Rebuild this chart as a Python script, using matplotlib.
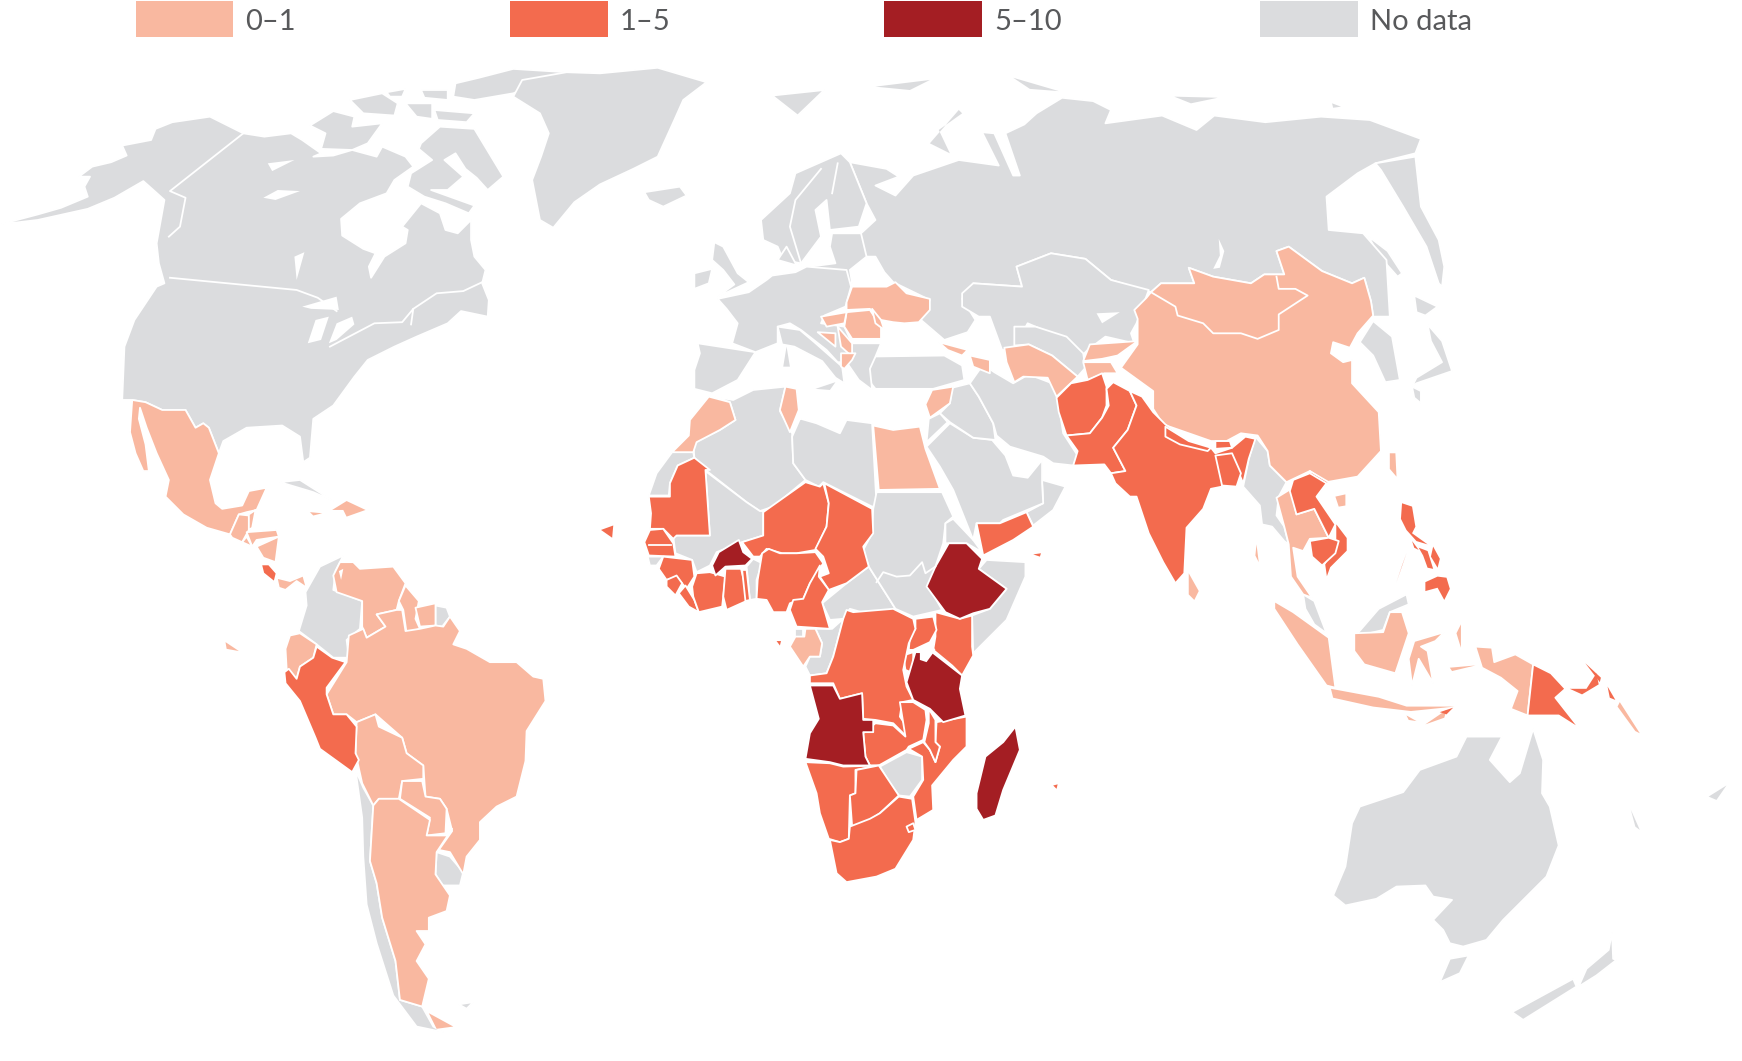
import matplotlib
matplotlib.use("Agg")
import matplotlib.pyplot as plt
from matplotlib.patches import Rectangle

# --- no data ---
north_america = [(0,202),(34,193),(55,187),(79,177),(76,168),(81,159),(71,159),(83,150),(100,146),(114,140),(110,131),(136,126),(140,116),(155,110),(189,105),(219,120),(238,123),(262,120),(272,126),(289,138),(282,141),(300,140),(317,135),(339,141),(344,132),(365,141),(372,150),(355,162),(348,174),(324,183),(307,197),(308,212),(327,224),(338,228),(332,240),(334,250),(346,231),(365,219),(367,207),(362,204),(379,183),(396,192),(401,207),(412,210),(424,198),(424,216),(427,231),(437,243),(434,255),(440,270),(439,285),(415,280),(403,291),(375,303),(355,312),(331,324),(319,339),(300,365),(282,377),(279,412),(273,416),(270,393),(254,383),(222,385),(201,397),(197,408),(188,385),(183,381),(176,385),(167,369),(146,369),(131,362),(119,360),(110,360),(112,312),(121,288),(141,258),(148,255),(143,237),(141,219),(148,180),(138,171),(129,163),(103,178),(79,188),(34,198)]
baffin = [(379,129),(396,114),(427,116),(453,159),(439,171),(429,160),(419,152),(410,138),(400,144),(417,159),(403,171),(388,171),(427,185),(422,192),(401,183),(382,177),(367,168),(370,156),(389,144),(377,134)]
victoria = [(279,113),(300,100),(319,105),(317,114),(344,111),(331,129),(317,135),(289,134),(293,120)]
ellesmere = [(431,70),(462,62),(510,65),(462,84),(427,90),(408,87),(410,75)]
devon = [(391,99),(427,102),(420,110),(394,108)]
melville = [(315,90),(344,84),(358,93),(355,104),(327,102)]
bathurst = [(365,93),(389,93),(389,107),(375,105)]
axel = [(379,81),(403,81),(403,90),(382,88)]
prince_patrick = [(348,83),(365,80),(362,87),(351,87)]
greenland = [(470,72),(510,65),(540,66),(592,61),(636,74),(615,90),(607,108),(592,141),(570,152),(540,166),(517,182),(498,205),(486,198),(479,162),(487,141),(494,120),(486,102),(462,87)]
iceland = [(580,173),(612,168),(618,176),(597,186),(584,180)]
svalbard = [(695,86),(742,81),(718,104)]
cuba = [(252,434),(270,432),(300,451),(282,443)]
colombia = [(288,510),(309,500),(302,514),(300,531),(326,541),(324,566),(312,576),(314,592),(300,592),(285,580),(269,568),(276,545),(275,533)]
french_guiana = [(392,545),(402,547),(405,555),(398,564),(392,563)]
uruguay = [(393,767),(405,771),(417,785),(414,797),(398,797),(392,787)]
chile = [(320,693),(327,709),(336,725),(333,775),(339,795),(344,826),(356,865),(360,900),(380,906),(390,924),(399,929),(375,924),(354,896),(339,849),(330,814),(327,771),(326,736)]
falklands = [(413,904),(426,902),(420,908)]
western_sahara = [(605,407),(624,407),(625,412),(610,419),(603,435),(602,446),(584,446),(591,426)]
algeria = [(642,357),(660,360),(678,351),(707,348),(702,370),(713,390),(714,417),(725,432),(696,456),(684,460),(672,452),(635,423),(625,412),(624,399),(648,387),(662,378),(657,362)]
libya = [(714,375),(735,381),(756,390),(762,378),(785,381),(789,455),(785,456),(741,434),(737,438),(725,432),(714,417),(713,393),(720,377)]
mali = [(635,424),(672,452),(684,460),(687,460),(687,482),(668,488),(645,497),(639,509),(627,515),(623,504),(608,498),(606,483),(609,482),(639,482)]
guinea_bissau = [(583,501),(597,501),(591,509),(585,509)]
benin = [(672,510),(678,503),(686,507),(681,522),(681,539),(675,540)]
eq_guinea = [(716,566),(723,566),(723,573),(716,573)]
congo = [(734,566),(749,566),(759,557),(750,591),(744,606),(729,608),(725,600),(729,591),(738,591),(740,579)]
car = [(740,543),(762,525),(782,510),(801,540),(806,548),(786,551),(779,552),(765,548),(759,557),(747,558)]
sudan = [(789,443),(848,443),(858,465),(851,471),(849,489),(842,510),(836,528),(848,549),(822,555),(806,548),(801,540),(782,510),(777,495),(785,480),(786,458)]
eritrea = [(851,471),(858,467),(876,486),(884,497),(870,489),(851,489)]
somalia = [(881,512),(888,504),(923,506),(923,519),(906,558),(876,588),(875,554),(891,548),(906,530)]
zimbabwe = [(792,690),(816,677),(830,681),(830,702),(819,717),(809,716),(801,705)]
lesotho = [(795,764),(804,756),(809,762),(801,770)]
oman = [(924,461),(939,453),(938,432),(959,438),(948,459),(930,473)]
saudi = [(834,402),(855,381),(876,394),(893,396),(905,410),(912,428),(925,430),(938,414),(938,435),(939,453),(903,468),(900,471),(879,471),(876,486),(858,441),(846,420)]
turkey = [(778,321),(850,320),(866,329),(868,342),(840,350),(788,350),(776,335)]
iraq = [(857,349),(873,345),(881,357),(894,381),(896,396),(876,394),(855,380),(846,372),(855,363)]
jordan = [(836,377),(846,372),(853,380),(834,398)]
iran = [(873,345),(885,328),(895,335),(912,345),(926,337),(947,345),(952,358),(957,390),(970,410),(966,419),(948,417),(939,411),(909,402),(897,392),(894,381),(881,357)]
myanmar = [(1130,393),(1141,406),(1143,419),(1158,434),(1151,447),(1149,464),(1156,474),(1160,490),(1156,487),(1145,474),(1136,472),(1134,455),(1119,438),(1124,413)]
korea = [(1224,308),(1236,289),(1253,303),(1260,342),(1247,344),(1236,320)]
hokkaido = [(1273,266),(1294,276),(1283,284),(1275,281)]
honshu = [(1285,292),(1298,307),(1307,334),(1275,345),(1271,348),(1275,340),(1298,326),(1288,307)]
kyushu = [(1271,348),(1279,352),(1279,363),(1273,358)]
sakhalin = [(1232,213),(1249,226),(1262,246),(1258,249),(1241,230)]
russia = [(765,146),(798,152),(809,159),(788,167),(806,176),(822,158),(863,144),(899,149),(884,119),(895,120),(912,158),(918,158),(905,120),(922,112),(933,102),(956,88),(984,91),(1000,99),(995,111),(1046,104),(1077,117),(1093,104),(1139,110),(1189,105),(1233,108),(1279,125),(1274,138),(1238,147),(1222,156),(1194,177),(1196,207),(1227,210),(1248,234),(1251,285),(1236,285),(1234,271),(1228,250),(1217,255),(1190,244),(1160,222),(1149,226),(1156,247),(1138,247),(1126,255),(1092,249),(1070,241),(1075,255),(1045,255),(1036,263),(1000,252),(977,233),(946,228),(915,240),(920,258),(876,255),(866,269),(878,288),(871,299),(850,306),(829,288),(837,270),(804,254),(796,245),(788,231),(775,231),(775,210),(788,198),(780,183)]
kamchatka = [(1238,147),(1274,141),(1279,186),(1295,216),(1300,240),(1298,258),(1295,255),(1284,222),(1263,186),(1243,153)]
novaya_zemlya = [(837,129),(863,99),(866,102),(845,117),(855,138)]
franz_josef = [(788,78),(837,72),(819,81)]
severnaya = [(912,70),(953,82),(927,80)]
new_siberia = [(1057,87),(1096,88),(1072,93)]
wrangel = [(1199,93),(1207,96),(1200,97)]
scandinavia = [(716,156),(757,138),(765,146),(780,183),(773,204),(747,207),(744,180),(734,189),(739,213),(721,237),(705,234),(700,222),(687,216),(685,198),(711,174)]
baltics = [(749,210),(775,210),(780,231),(765,243),(767,255),(729,240),(752,237),(747,222)]
denmark = [(700,234),(708,222),(716,237),(721,240)]
iberia = [(628,309),(680,317),(664,342),(641,354),(625,350),(625,333),(630,318)]
europe = [(646,269),(674,263),(690,252),(695,248),(716,245),(726,240),(762,243),(766,258),(761,276),(742,284),(739,291),(760,294),(767,309),(793,309),(788,321),(783,332),(785,351),(773,342),(762,326),(754,326),(744,315),(721,297),(711,291),(700,294),(700,309),(680,317),(659,309),(664,291),(654,278)]
italy = [(700,294),(720,297),(733,308),(758,330),(760,345),(752,340),(740,325),(715,312),(704,310)]
corsica = [(708,312),(711,330),(705,330)]
sicily = [(734,350),(752,344),(747,351)]
britain = [(651,222),(664,246),(674,254),(646,267),(661,256),(651,243),(641,234),(643,218)]
ireland = [(625,246),(641,242),(638,255),(625,260)]
kazakhstan = [(866,264),(876,255),(920,258),(915,240),(946,228),(977,233),(1000,252),(1034,261),(1023,291),(1018,300),(1021,309),(995,303),(979,315),(974,320),(953,303),(925,291),(912,315),(902,315),(891,285),(881,285),(866,276)]
uzbekistan = [(913,294),(932,294),(960,303),(975,318),(977,331),(970,339),(947,320),(926,310),(913,311)]
malaya = [(1173,535),(1183,541),(1194,570),(1183,562),(1175,548)]
sabah = [(1222,570),(1241,548),(1266,535),(1268,544),(1251,551),(1245,567),(1224,572)]
australia = [(1200,806),(1211,780),(1217,741),(1224,726),(1263,713),(1278,693),(1311,681),(1320,663),(1352,663),(1341,684),(1359,704),(1368,696),(1380,656),(1389,684),(1388,714),(1395,726),(1403,761),(1392,789),(1353,828),(1338,846),(1317,852),(1305,849),(1299,837),(1290,828),(1307,810),(1290,807),(1283,797),(1257,798),(1239,809),(1211,815)]
tasmania = [(1305,863),(1322,860),(1314,876),(1296,884)]
nz_south = [(1361,911),(1416,881),(1419,888),(1371,918)]
nz_north = [(1421,888),(1428,872),(1448,855),(1451,839),(1452,863),(1455,864),(1437,878)]
new_caledonia = [(1468,729),(1476,747),(1472,744)]
fiji = [(1538,717),(1554,707),(1545,720)]

# --- 0-1 ---
mexico = [(119,360),(131,362),(146,369),(167,369),(176,385),(183,381),(188,385),(197,408),(189,432),(194,453),(200,458),(218,455),(224,442),(240,439),(231,459),(222,461),(215,463),(207,481),(186,475),(165,463),(149,447),(152,432),(141,408),(132,385),(126,367),(125,377),(131,400),(134,424),(129,424),(122,408),(117,389)]
guatemala = [(207,481),(215,463),(224,464),(224,477),(218,488),(209,484)]
belize = [(224,463),(230,459),(227,475),(224,477)]
honduras = [(222,479),(249,477),(251,483),(231,486),(227,492)]
salvador = [(218,488),(222,483),(227,492)]
nicaragua = [(231,492),(251,483),(248,506),(237,502)]
panama = [(249,520),(261,523),(273,518),(276,529),(267,523),(257,531),(251,529)]
hispaniola = [(299,459),(312,451),(329,459),(312,465),(309,459)]
jamaica = [(279,461),(290,462),(282,464)]
galapagos = [(203,578),(215,586),(204,584)]
venezuela = [(302,514),(306,506),(318,506),(324,512),(354,510),(365,525),(359,541),(357,549),(339,553),(347,564),(330,574),(326,564),(326,541),(303,533),(300,518)]
guyana = [(359,541),(365,527),(377,541),(374,557),(378,566),(366,570),(363,549)]
suriname = [(374,547),(392,543),(392,563),(378,564)]
brazil = [(314,572),(327,566),(330,574),(347,564),(339,553),(357,549),(362,549),(365,568),(378,566),(392,563),(399,564),(405,555),(414,568),(408,580),(420,584),(441,596),(465,596),(480,609),(489,611),(491,631),(474,658),(473,685),(465,717),(447,726),(432,740),(432,756),(420,771),(417,787),(405,767),(395,765),(407,748),(402,728),(396,719),(383,717),(381,689),(366,678),(362,664),(338,643),(321,650),(312,643),(300,643),(294,625),(312,596)]
ecuador = [(261,572),(270,570),(285,580),(282,592),(270,600),(267,611),(258,602),(257,584)]
bolivia = [(321,650),(338,643),(341,654),(362,664),(366,678),(381,689),(381,701),(362,703),(359,719),(341,719),(336,725),(326,705),(320,678)]
paraguay = [(362,703),(380,703),(383,717),(396,719),(402,728),(401,750),(384,752),(387,736),(360,719)]
argentina = [(341,719),(359,719),(387,738),(384,752),(401,752),(407,746),(393,767),(392,787),(405,806),(402,820),(386,826),(386,838),(375,838),(383,850),(375,865),(386,881),(380,906),(360,900),(356,865),(344,826),(339,795),(333,775),(336,725)]
tierra = [(386,912),(408,924),(393,926)]
morocco = [(638,357),(657,362),(662,378),(648,387),(627,398),(624,407),(605,407),(620,392),(621,378)]
tunisia = [(707,348),(717,350),(719,369),(711,389),(702,369)]
egypt = [(786,383),(804,387),(828,384),(833,404),(846,440),(791,441)]
gabon = [(725,566),(734,566),(740,579),(738,591),(729,591),(723,600),(711,582),(716,573),(724,573)]
syria = [(839,351),(858,348),(855,363),(837,376),(833,364)]
ukraine = [(767,258),(798,258),(806,254),(816,264),(837,269),(837,279),(827,290),(814,291),(804,290),(793,288),(783,278),(762,279),(762,272)]
romania = [(762,281),(783,279),(793,294),(793,305),(767,305),(760,294)]
hungary = [(739,285),(762,281),(760,291),(744,294)]
moldova = [(785,278),(793,288),(796,297),(788,291)]
serbia = [(754,294),(767,309),(767,321),(757,312)]
bosnia = [(736,299),(752,300),(752,312)]
macedonia = [(757,318),(770,318),(767,324),(760,332),(757,330)]
georgia = [(845,308),(871,315),(866,320),(853,315)]
armenia = [(873,320),(891,324),(891,336),(876,330)]
turkmenistan = [(904,313),(926,310),(947,320),(970,339),(951,357),(943,340),(921,339),(913,344),(906,326)]
kyrgyzstan = [(981,310),(1024,307),(1006,320),(992,323),(975,325)]
tajikistan = [(975,326),(1000,326),(1006,336),(994,336),(979,342)]
china = [(1036,263),(1045,255),(1075,255),(1070,241),(1092,249),(1126,255),(1138,247),(1156,247),(1149,226),(1160,222),(1190,244),(1217,255),(1228,250),(1234,271),(1236,284),(1222,300),(1215,313),(1200,308),(1198,318),(1209,326),(1217,324),(1217,345),(1241,371),(1243,406),(1222,429),(1194,434),(1179,424),(1158,434),(1143,419),(1141,406),(1132,392),(1117,390),(1104,397),(1090,397),(1070,390),(1047,382),(1038,368),(1038,352),(1009,331),(1024,310),(1024,287),(1021,279),(1032,268)]
taiwan = [(1251,408),(1256,408),(1257,429),(1251,422)]
hainan = [(1202,447),(1211,445),(1211,455),(1205,456)]
thailand = [(1149,448),(1162,440),(1167,463),(1183,458),(1196,484),(1179,485),(1173,496),(1164,493),(1168,519),(1181,538),(1173,535),(1162,519),(1160,490),(1156,474)]
kalimantan = [(1219,570),(1245,569),(1251,551),(1262,551),(1268,570),(1256,606),(1228,598),(1219,586)]
sumatra = [(1147,541),(1164,551),(1196,574),(1202,619),(1194,617),(1168,580),(1147,548)]
java = [(1198,620),(1241,628),(1266,636),(1309,636),(1270,640),(1236,636),(1200,628)]
sulawesi = [(1273,577),(1300,569),(1292,577),(1279,582),(1285,586),(1290,615),(1277,593),(1271,617),(1268,593)]
halmahera = [(1315,562),(1315,583),(1311,570)]
seram = [(1305,601),(1328,599),(1307,604)]
west_papua = [(1328,582),(1343,583),(1345,596),(1364,589),(1380,598),(1375,644),(1360,638),(1366,622),(1351,610),(1334,601)]
solomons = [(1458,632),(1476,660),(1472,658),(1456,636)]
sri_lanka = [(1070,516),(1079,532),(1075,540),(1070,535)]
andaman = [(1131,490),(1133,506),(1130,500)]
sumba = [(1266,644),(1275,649),(1268,648)]
west_timor = [(1283,652),(1302,639),(1300,646)]

# --- 1-5 ---
costa_rica = [(235,508),(242,508),(249,516),(247,524),(237,516)]
peru = [(285,582),(299,592),(311,596),(294,619),(294,625),(300,643),(312,643),(321,654),(320,678),(323,684),(317,695),(288,674),(284,664),(270,631),(257,615),(256,605),(260,602),(267,611),(270,600),(282,592)]
mauritania = [(625,412),(639,423),(635,423),(639,482),(609,482),(606,485),(597,476),(585,476),(586,462),(584,447),(603,447),(603,435),(610,419)]
senegal = [(585,477),(597,476),(606,489),(608,501),(584,500),(580,488)]
guinea = [(597,501),(623,504),(625,519),(618,530),(609,519),(600,522),(593,512)]
sierra_leone = [(600,522),(609,518),(614,525),(608,536),(600,528)]
liberia = [(611,534),(617,527),(625,540),(629,551),(620,546)]
ivory_coast = [(627,516),(639,515),(653,519),(650,546),(629,551),(624,537),(623,528)]
ghana = [(653,512),(667,512),(674,540),(654,549),(651,537)]
togo = [(668,513),(672,513),(675,540),(671,541)]
niger = [(687,461),(725,434),(738,438),(741,435),(746,453),(744,474),(734,495),(717,498),(704,498),(690,494),(684,501),(678,501),(668,488),(687,482)]
nigeria = [(686,498),(692,494),(702,498),(717,498),(734,497),(741,507),(729,525),(723,539),(711,543),(708,551),(696,551),(690,540),(681,539),(682,522)]
chad = [(742,435),(785,458),(786,480),(777,492),(782,510),(762,525),(746,531),(738,519),(746,516),(741,501),(734,494),(744,474),(746,453)]
cameroon = [(737,519),(746,531),(740,542),(747,566),(717,564),(711,549),(714,540),(723,539),(729,525),(738,509)]
kenya = [(842,551),(864,557),(875,554),(875,582),(876,590),(866,608),(857,599),(840,585),(842,573)]
uganda = [(824,557),(840,555),(843,567),(837,578),(822,585),(818,585),(819,573),(824,566)]
rwanda_burundi = [(813,590),(822,587),(822,606),(815,603)]
drc = [(762,549),(768,551),(804,548),(822,557),(824,566),(818,579),(813,603),(816,618),(822,630),(812,632),(810,645),(816,654),(815,662),(804,651),(788,648),(777,647),(776,624),(756,629),(750,615),(729,615),(729,608),(744,606),(750,591),(759,557)]
zambia = [(777,660),(788,651),(804,653),(815,663),(810,632),(822,632),(833,639),(834,648),(831,666),(818,672),(816,675),(791,689),(783,689),(779,681)]
malawi = [(836,638),(842,648),(842,668),(846,672),(842,686),(837,675),(832,668),(836,651)]
mozambique = [(843,650),(870,645),(870,672),(858,684),(839,707),(840,729),(825,738),(822,717),(831,702),(830,681),(818,674),(831,668),(837,675),(842,686),(846,672),(842,668)]
namibia = [(725,686),(747,687),(759,690),(791,689),(770,693),(770,714),(765,716),(764,755),(756,758),(746,755),(738,732),(735,714)]
botswana = [(771,693),(791,689),(809,716),(792,732),(783,738),(767,744),(765,716),(770,714)]
south_africa = [(765,744),(783,737),(792,732),(809,717),(821,719),(824,740),(822,756),(806,782),(789,789),(762,794),(753,786),(747,756),(756,758),(764,755)]
swaziland = [(816,744),(822,741),(824,747),(818,749)]
yemen = [(879,471),(900,471),(924,461),(930,474),(912,486),(885,500)]
socotra = [(930,499),(937,498),(936,501)]
afghanistan = [(951,358),(964,345),(979,342),(992,336),(996,348),(996,365),(992,376),(981,390),(960,392),(953,371)]
pakistan = [(960,392),(981,390),(992,376),(998,365),(996,350),(1002,344),(1017,352),(1023,365),(1015,387),(1002,403),(1013,424),(1000,426),(994,418),(966,419),(970,406)]
india = [(1017,352),(1028,357),(1038,371),(1049,382),(1070,397),(1090,403),(1094,408),(1109,403),(1121,393),(1130,395),(1124,413),(1119,435),(1111,416),(1100,418),(1100,438),(1090,440),(1083,458),(1068,475),(1066,516),(1058,525),(1047,506),(1034,480),(1023,447),(1017,447),(1004,435),(1000,426),(1013,424),(1002,403),(1015,387),(1023,365)]
nepal = [(1049,384),(1070,397),(1090,403),(1087,406),(1062,400),(1049,393)]
bhutan = [(1094,397),(1107,397),(1109,403),(1094,404)]
bangladesh = [(1094,410),(1109,408),(1117,426),(1113,438),(1100,437)]
vietnam = [(1179,424),(1196,434),(1185,447),(1213,484),(1213,496),(1198,511),(1194,522),(1192,508),(1202,491),(1202,472),(1185,447)]
laos = [(1164,432),(1179,426),(1194,435),(1185,447),(1202,472),(1196,484),(1183,458),(1167,463),(1161,442)]
cambodia = [(1179,487),(1196,484),(1205,487),(1202,498),(1190,509),(1181,501)]
luzon = [(1262,453),(1271,456),(1274,474),(1271,480),(1285,490),(1275,487),(1266,477),(1261,467)]
mindoro = [(1271,487),(1277,495),(1273,493)]
samar_leyte = [(1290,492),(1296,503),(1294,511),(1288,501)]
panay_negros = [(1277,493),(1285,496),(1290,512),(1285,511),(1281,500)]
mindanao = [(1283,524),(1294,519),(1302,520),(1305,530),(1300,540),(1294,529),(1283,532)]
palawan = [(1266,498),(1257,524),(1262,509)]
timor = [(1296,641),(1308,637),(1302,643)]
png = [(1380,598),(1396,606),(1409,620),(1400,628),(1422,656),(1403,644),(1375,644)]
new_britain = [(1413,620),(1428,620),(1437,606),(1439,616),(1424,625)]
new_ireland = [(1427,597),(1441,610),(1440,614)]
bougainville = [(1447,618),(1454,630),(1449,628)]
cape_verde = [(541,477),(552,473),(551,484)]
mauritius = [(948,707),(952,706),(951,710)]
sao_tome = [(699,577),(703,577),(702,581)]

# --- 5-10 ---
burkina_faso = [(641,509),(647,497),(665,486),(669,497),(677,503),(671,509),(653,510),(644,518)]
ethiopia = [(854,489),(870,489),(884,503),(881,512),(906,530),(891,548),(876,552),(864,557),(851,551),(834,528),(842,510)]
tanzania = [(824,587),(839,587),(866,608),(864,620),(869,644),(849,650),(837,638),(822,630),(816,614)]
angola = [(729,617),(750,617),(756,629),(776,624),(777,648),(786,648),(786,659),(777,659),(779,681),(783,689),(759,689),(747,686),(725,683),(729,660),(737,647)]
madagascar = [(914,654),(918,675),(903,711),(896,734),(885,738),(879,728),(879,714),(887,681),(903,668)]

# lakes and inner seas
great_slave = [(237,178),(250,171),(270,172),(248,180)]
great_bear = [(241,147),(265,144),(245,154)]
winnipeg = [(265,231),(274,227),(267,252)]
superior = [(272,276),(303,267),(305,279),(280,278)]
michigan = [(277,309),(284,288),(296,285),(289,306)]
huron = [(296,309),(303,291),(317,285),(319,292),(303,306)]
gulf_california = [(126,367),(132,385),(141,408),(134,424),(131,400),(125,377)]
maracaibo = [(305,514),(309,512),(307,522)]
victoria_lake = [(828,582),(837,578),(842,585),(834,596),(828,594)]
balkhash = [(987,282),(1008,281),(992,291)]
baikal = [(1097,215),(1102,226),(1098,241),(1092,242),(1098,230)]

# borders drawn on top of a single outline
alaska_border = [(219,120),(153,172),(167,178),(162,204),(152,213)]
us_canada_border = [(153,250),(267,261),(286,268),(303,280)]
st_lawrence = [(297,312),(337,291),(362,290),(372,278),(370,292)]
gulf_st_lawrence = [(434,254),(417,262),(393,264),(372,278)]
mongolia_border = [(1036,263),(1058,276),(1060,284),(1083,291),(1092,300),(1117,300),(1132,305),(1151,297),(1151,283),(1177,266),(1166,260),(1151,260),(1149,249)]
south_sudan_border = [(789,524),(795,515),(807,519),(819,518),(830,506),(833,516),(842,510)]
norway_sweden = [(739,152),(716,180),(711,204),(721,237)]
sweden_finland = [(754,147),(749,174)]
gambia = [(584,491),(604,491)]

no_data = [north_america, baffin, victoria, ellesmere, devon, melville, bathurst, axel, prince_patrick,
           greenland, iceland, svalbard, cuba, colombia, french_guiana, uruguay, chile, falklands,
           western_sahara, algeria, libya, mali, guinea_bissau, benin, eq_guinea, congo, car, sudan,
           eritrea, somalia, zimbabwe, lesotho, oman, saudi, turkey, iraq, jordan, iran, myanmar, korea,
           sakhalin, russia, kamchatka, scandinavia, baltics, denmark, iberia, europe, italy, britain,
           ireland, kazakhstan, uzbekistan, malaya, sabah, australia, tasmania, nz_south, nz_north,
           hokkaido, honshu, kyushu]
no_data_islands = [novaya_zemlya, franz_josef, severnaya, new_siberia, wrangel, corsica, sicily, new_caledonia, fiji]
low = [mexico, guatemala, belize, honduras, salvador, nicaragua, panama, venezuela, guyana, suriname, brazil,
       ecuador, bolivia, paraguay, argentina, morocco, tunisia, egypt, gabon, syria, ukraine, romania, hungary,
       moldova, serbia, bosnia, macedonia, georgia, armenia, turkmenistan, kyrgyzstan, tajikistan, china,
       thailand, kalimantan, sumatra, sulawesi, west_papua]
low_islands = [hispaniola, jamaica, galapagos, tierra, taiwan, hainan, java, halmahera, seram, solomons,
               sri_lanka, andaman, sumba, west_timor]
mid = [costa_rica, peru, mauritania, senegal, guinea, sierra_leone, liberia, ivory_coast, ghana, togo, niger,
       nigeria, chad, cameroon, kenya, uganda, rwanda_burundi, drc, zambia, mozambique, malawi, namibia,
       botswana, south_africa, swaziland, yemen, afghanistan, pakistan, india, nepal, bhutan, bangladesh,
       vietnam, laos, cambodia, png]
mid_islands = [socotra, luzon, mindoro, samar_leyte, panay_negros, mindanao, palawan, timor, new_britain,
               new_ireland, bougainville, cape_verde, mauritius, sao_tome]
high = [burkina_faso, ethiopia, tanzania, angola, madagascar]
water = [great_slave, great_bear, winnipeg, superior, michigan, huron, gulf_california, maracaibo,
         victoria_lake, balkhash, baikal]
borders = [alaska_border, us_canada_border, st_lawrence, gulf_st_lawrence, mongolia_border,
           south_sudan_border, norway_sweden, sweden_finland, gambia]

legend_labels = ["0\u20131", "1\u20135", "5\u201310", "No data"]
legend_colors = ["#F9B8A0", "#F36B4E", "#A41E23", "#DBDCDE"]
legend_left = [122, 459, 796, 1134]


def draw_group(ax, shapes, color, edge="white"):
    for shape in shapes:
        xs, ys = zip(*shape)
        ax.fill(xs, ys, facecolor=color, edgecolor=edge, linewidth=1.3, joinstyle="round")


fig = plt.figure(figsize=(17.42, 10.61), dpi=100)
ax = fig.add_axes([0, 0, 1, 1])

draw_group(ax, no_data, legend_colors[3])
draw_group(ax, no_data_islands, legend_colors[3], edge="none")
draw_group(ax, low, legend_colors[0])
draw_group(ax, low_islands, legend_colors[0], edge="none")
draw_group(ax, mid, legend_colors[1])
draw_group(ax, mid_islands, legend_colors[1], edge="none")
draw_group(ax, high, legend_colors[2])

draw_group(ax, water, "white", edge="none")
for line in borders:
    xs, ys = zip(*line)
    ax.plot(xs, ys, color="white", linewidth=1.3)

for left, label, color in zip(legend_left, legend_labels, legend_colors):
    ax.add_patch(Rectangle((left, 1), 88, 32, facecolor=color, edgecolor="none"))
    ax.text(left + 99, 20, label, fontsize=21, color="#58595B", family="Lato", va="center", ha="left")

ax.set_xlim(0, 1568)
ax.set_ylim(955, 0)
ax.axis("off")
fig.savefig("out.png", dpi=100, facecolor="white")
